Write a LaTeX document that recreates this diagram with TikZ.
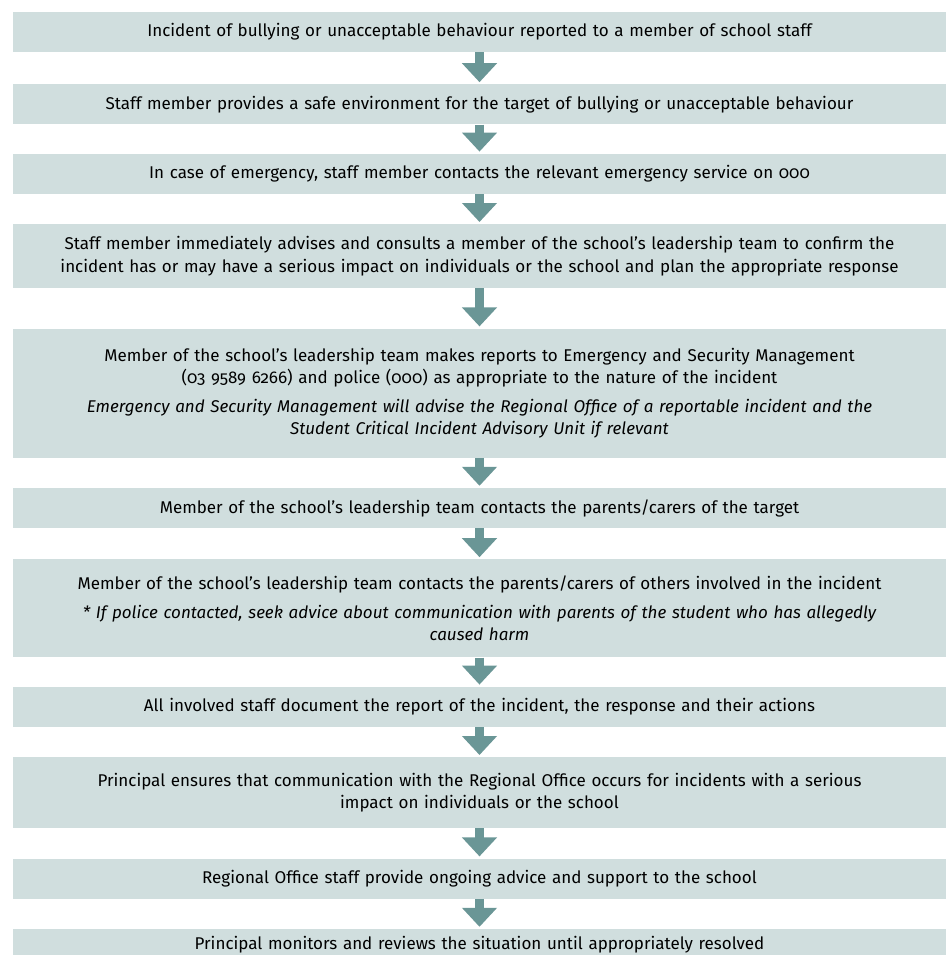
\documentclass[tikz,border=0pt]{standalone}
\usepackage{fontspec}
\setmainfont{Fira Sans}[Numbers=OldStyle]
\usetikzlibrary{positioning,arrows.meta}
\definecolor{boxfill}{RGB}{208,222,222}
\definecolor{arrowteal}{RGB}{106,150,150}

\begin{document}
\begin{tikzpicture}[x=1pt, y=1pt,
    stepbox/.style={rectangle, fill=boxfill, minimum width=933pt,
    text width=924pt, align=center, inner sep=0pt,
    font=\fontsize{17}{22.5}\selectfont},
    flow/.style={draw=arrowteal, line width=9pt,
    -{Triangle[length=19pt,width=34pt]}}]

  \useasboundingbox (0,0) rectangle (946,-955);

  \node[stepbox, minimum height=40pt] (b1) at (479.5,-32)
    {Incident of bullying or unacceptable behaviour reported to a member of school staff};
  \node[stepbox, minimum height=40pt, below=32pt of b1] (b2)
    {Staff member provides a safe environment for the target of bullying or unacceptable behaviour};
  \node[stepbox, minimum height=40pt, below=29pt of b2] (b3)
    {In case of emergency, staff member contacts the relevant emergency service on 000};
  \node[stepbox, minimum height=64pt, below=30pt of b3] (b4)
    {Staff member immediately advises and consults a member of the school’s leadership team to confirm the\\
     incident has or may have a serious impact on individuals or the school and plan the appropriate response};
  \node[stepbox, minimum height=129pt, below=40pt of b4] (b5)
    {Member of the school’s leadership team makes reports to Emergency and Security Management\\
     (03 9589 6266) and police (000) as appropriate to the nature of the incident\\[6pt]
     \itshape Emergency and Security Management will advise the Regional Office of a reportable incident and the\\
     \itshape Student Critical Incident Advisory Unit if relevant};
  \node[stepbox, minimum height=40pt, below=30pt of b5] (b6)
    {Member of the school’s leadership team contacts the parents/carers of the target};
  \node[stepbox, minimum height=98pt, below=31pt of b6] (b7)
    {Member of the school’s leadership team contacts the parents/carers of others involved in the incident\\[6pt]
     \itshape * If police contacted, seek advice about communication with parents of the student who has allegedly\\
     \itshape caused harm};
  \node[stepbox, minimum height=40pt, below=29pt of b7] (b8)
    {All involved staff document the report of the incident, the response and their actions};
  \node[stepbox, minimum height=71pt, below=30pt of b8] (b9)
    {Principal ensures that communication with the Regional Office occurs for incidents with a serious\\
     impact on individuals or the school};
  \node[stepbox, minimum height=40pt, below=30pt of b9] (b10)
    {Regional Office staff provide ongoing advice and support to the school};
  \node[stepbox, minimum height=31pt, below=30pt of b10] (b11)
    {Principal monitors and reviews the situation until appropriately resolved};

  % arrows between the steps
  \foreach \a/\b in {b1/b2,b2/b3,b3/b4,b4/b5,b5/b6,b6/b7,b7/b8,b8/b9,b9/b10,b10/b11}
    \draw[flow] (\a.south) -- ([yshift=2pt]\b.north);
\end{tikzpicture}
\end{document}
